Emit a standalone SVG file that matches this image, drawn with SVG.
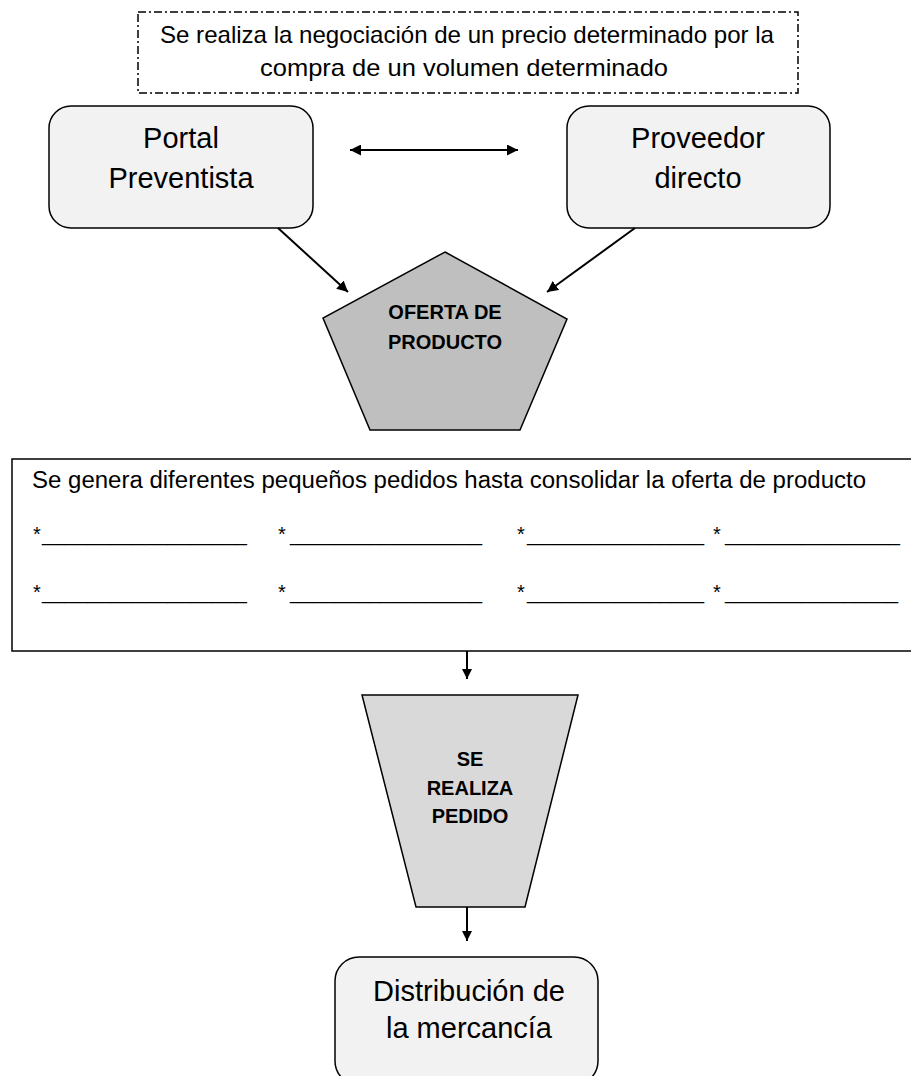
<svg xmlns="http://www.w3.org/2000/svg" width="911" height="1076" viewBox="0 0 911 1076">
<defs>
<style>
text{font-family:"Liberation Sans",Arial,sans-serif;fill:#000}
.big{font-size:29px;text-anchor:middle}
.mid{font-size:23px}
.bold{font-size:20px;font-weight:bold;text-anchor:middle}
.box{fill:#f2f2f2;stroke:#000;stroke-width:1.5}
.conn{stroke:#000;stroke-width:2;fill:none}
</style>
<marker id="ah" viewBox="0 0 10 10" refX="10" refY="5" markerWidth="11" markerHeight="11" markerUnits="userSpaceOnUse" orient="auto-start-reverse">
<path d="M0,0 L10,5 L0,10 z" fill="#000"/>
</marker>
<marker id="ahs" viewBox="0 0 10 10" refX="10" refY="5" markerWidth="10" markerHeight="10" markerUnits="userSpaceOnUse" orient="auto">
<path d="M0,0 L10,5 L0,10 z" fill="#000"/>
</marker>
</defs>
<rect width="911" height="1076" fill="#fff"/>

<g id="nota">
<rect x="138" y="12" width="660" height="81" fill="none" stroke="#000" stroke-width="1.5" stroke-dasharray="8 3 2 3"/>
<text x="467" y="43" font-size="24" text-anchor="middle" textLength="614" lengthAdjust="spacingAndGlyphs">Se realiza la negociación de un precio determinado por la</text>
<text x="464" y="76" font-size="24" text-anchor="middle" textLength="408" lengthAdjust="spacingAndGlyphs">compra de un volumen determinado</text>
</g>

<g id="portal">
<rect class="box" x="49" y="106" width="264" height="122" rx="22"/>
<text class="big" x="181" y="148">Portal</text>
<text class="big" x="181" y="188">Preventista</text>
</g>

<g id="proveedor">
<rect class="box" x="567" y="106" width="263" height="122" rx="22"/>
<text class="big" x="698" y="148">Proveedor</text>
<text class="big" x="698" y="188">directo</text>
</g>

<g id="oferta">
<polygon points="445,252 567,319 520,430 370,430 323,318" fill="#bfbfbf" stroke="#000" stroke-width="1.5"/>
<text class="bold" x="445" y="319">OFERTA DE</text>
<text class="bold" x="445" y="349">PRODUCTO</text>
</g>

<g id="pedidos">
<rect x="12" y="459" width="910" height="192" fill="#fff" stroke="#000" stroke-width="1.5"/>
<text class="mid" x="32" y="488" textLength="834" lengthAdjust="spacingAndGlyphs">Se genera diferentes pequeños pedidos hasta consolidar la oferta de producto</text>
<g font-size="20">
<text x="33" y="541">*</text><text x="42" y="541" textLength="205" lengthAdjust="spacingAndGlyphs">__________________</text>
<text x="278" y="541">*</text><text x="290" y="541" textLength="192" lengthAdjust="spacingAndGlyphs">_________________</text>
<text x="517" y="541">*</text><text x="527" y="541" textLength="177" lengthAdjust="spacingAndGlyphs">________________</text>
<text x="713" y="541">*</text><text x="725" y="541" textLength="175" lengthAdjust="spacingAndGlyphs">________________</text>
<text x="33" y="599">*</text><text x="42" y="599" textLength="205" lengthAdjust="spacingAndGlyphs">__________________</text>
<text x="278" y="599">*</text><text x="290" y="599" textLength="192" lengthAdjust="spacingAndGlyphs">_________________</text>
<text x="517" y="599">*</text><text x="527" y="599" textLength="177" lengthAdjust="spacingAndGlyphs">________________</text>
<text x="713" y="599">*</text><text x="725" y="599" textLength="173" lengthAdjust="spacingAndGlyphs">________________</text>
</g>
</g>

<g id="realiza">
<polygon points="362,695 578,695 525,907 416,907" fill="#d9d9d9" stroke="#000" stroke-width="1.5"/>
<text class="bold" x="470" y="766">SE</text>
<text class="bold" x="470" y="795">REALIZA</text>
<text class="bold" x="470" y="823">PEDIDO</text>
</g>

<g id="distribucion">
<rect class="box" x="335" y="957" width="263" height="128" rx="24"/>
<text class="big" x="469" y="1001">Distribución de</text>
<text class="big" x="469" y="1038">la mercancía</text>
</g>

<g id="connectors">
<line class="conn" x1="350" y1="150" x2="518" y2="150" marker-start="url(#ah)" marker-end="url(#ah)"/>
<line class="conn" x1="278" y1="228" x2="348" y2="292" marker-end="url(#ah)"/>
<line class="conn" x1="635" y1="228" x2="547" y2="292" marker-end="url(#ah)"/>
<line class="conn" x1="467" y1="651" x2="467" y2="679" stroke-width="1.5" marker-end="url(#ahs)"/>
<line class="conn" x1="467" y1="907" x2="467" y2="941" stroke-width="1.5" marker-end="url(#ahs)"/>
</g>
</svg>
